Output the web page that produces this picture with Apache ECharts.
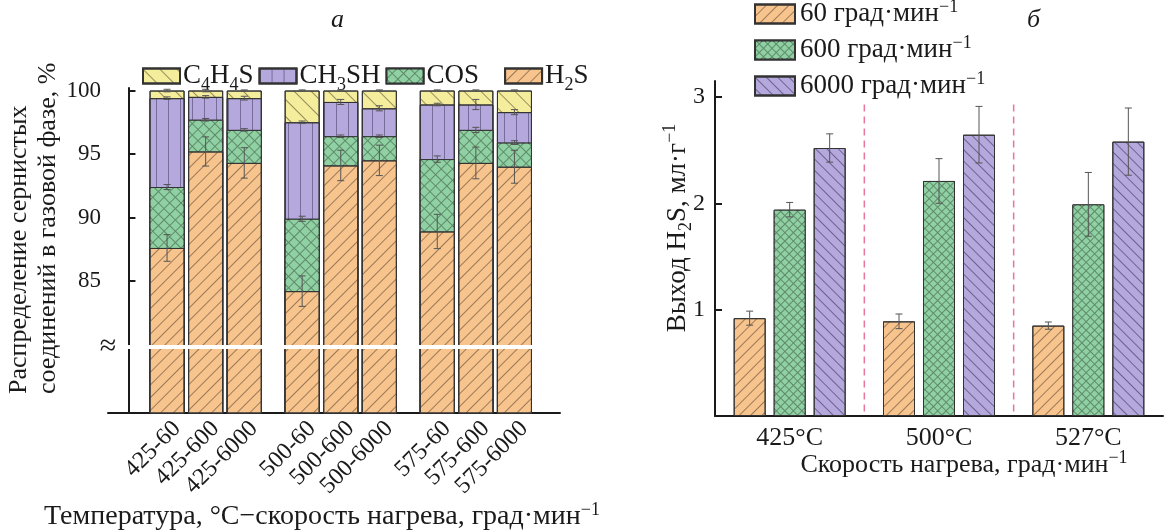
<!DOCTYPE html>
<html>
<head>
<meta charset="utf-8">
<script src="https://cdn.jsdelivr.net/npm/echarts@6/dist/echarts.min.js"></script>
<style>
  html, body { margin: 0; padding: 0; background: #fff; }
  #main { width: 1168px; height: 531px; }
</style>
</head>
<body>
<div id="main"></div>
<script>
// --- левый график (а): распределение сернистых соединений, % ---
const samples = ['425-60', '425-600', '425-6000', '500-60', '500-600', '500-6000', '575-60', '575-600', '575-6000'];
const samplePos = [1, 2, 3, 4.5, 5.5, 6.5, 8, 9, 10];
const h2s = [87.6, 95.2, 94.3, 84.2, 94.1, 94.5, 88.9, 94.3, 94.0];
const cos = [4.8, 2.5, 2.6, 5.7, 2.3, 1.9, 5.7, 2.6, 1.9];
const ch3sh = [7.0, 1.8, 2.5, 7.6, 2.7, 2.2, 4.3, 2.0, 2.4];
const c4h4s = [0.6, 0.5, 0.6, 2.5, 0.9, 1.4, 1.1, 1.1, 1.7];
const h2sErr = [1.05, 1.15, 1.2, 1.2, 1.2, 1.2, 1.35, 1.25, 1.3];
const cosErr = [0.2, 0.1, 0.1, 0.2, 0.1, 0.1, 0.25, 0.2, 0.15];
const ch3shErr = [0.1, 0.1, 0.15, 0.1, 0.2, 0.2, 0.1, 0.4, 0.2];
const c4h4sErr = [0.1, 0.1, 0.05, 0.05, 0.05, 0.05, 0.05, 0.05, 0.05];
const leftTicks = [85, 90, 95, 100];

// --- правый график (б): выход H2S, мл/г ---
const temps = ['425°C', '500°C', '527°C'];
const rateNames = ['60', '600', '6000'];
const yield60 = [0.92, 0.89, 0.85];
const yield600 = [1.94, 2.21, 1.99];
const yield6000 = [2.52, 2.645, 2.58];
const err60 = [0.066, 0.069, 0.034];
const err600 = [0.068, 0.21, 0.30];
const err6000 = [0.133, 0.266, 0.316];

const FONT = "'Liberation Serif', 'DejaVu Serif', serif";
const TXT = '#1a1a1a';
const ORANGE = '#f8c48e', GREEN = '#8fd1a2', PURPLE = '#b4a8dd', YELLOW = '#f4ee9c';

const hatch = (rot, gap, color) => ({
  symbol: 'rect', symbolSize: 1, color: color || 'rgba(80,60,40,0.55)',
  dashArrayX: [10, 0], dashArrayY: [1, gap], rotation: rot
});
const cross = (cell) => ({
  symbol: 'rect', symbolSize: 1, color: GREEN,
  dashArrayX: [cell, 1], dashArrayY: [cell, 1], rotation: Math.PI / 4
});

// накопленные значения для стопки
const lvl1 = h2s.slice();
const lvl2 = h2s.map((v, i) => v + cos[i]);
const lvl3 = lvl2.map((v, i) => v + ch3sh[i]);
const lvl4 = lvl3.map((v, i) => v + c4h4s[i]);

const pairs = (arr) => arr.map((v, i) => [samplePos[i], v]);

let errLeft = [];
[[lvl1, h2sErr], [lvl2, cosErr], [lvl3, ch3shErr], [lvl4, c4h4sErr]].forEach(([lv, er]) => {
  lv.forEach((v, i) => errLeft.push([samplePos[i], v - er[i], v + er[i]]));
});

let errRight = [];
[[yield60, err60], [yield600, err600], [yield6000, err6000]].forEach(([vals, er], k) => {
  vals.forEach((v, i) => errRight.push([i, v - er[i], v + er[i], k]));
});

function drawErr(x, top, bot) {
  const w = 3.5, st = { stroke: '#555', lineWidth: 1 };
  return {
    type: 'group', children: [
      { type: 'line', shape: { x1: x, y1: top, x2: x, y2: bot }, style: st },
      { type: 'line', shape: { x1: x - w, y1: top, x2: x + w, y2: top }, style: st },
      { type: 'line', shape: { x1: x - w, y1: bot, x2: x + w, y2: bot }, style: st }
    ]
  };
}

const subFmt = (name) => name.replace(/(\d)/g, '{sub|$1}') + (name === 'COS' ? '{gap|}' : '');
const richLeft = {
  sub: { fontSize: 18, fontFamily: FONT, color: TXT, verticalAlign: 'bottom', lineHeight: 18 },
  gap: { width: 20 }
};
const richSup = {
  sup: { fontSize: 18, fontFamily: FONT, color: TXT, verticalAlign: 'top', lineHeight: 18 },
  sub: { fontSize: 18, fontFamily: FONT, color: TXT, verticalAlign: 'bottom', lineHeight: 18 }
};

const myChart = echarts.init(document.getElementById('main'), null, { renderer: 'canvas' });

const barBorder = { borderColor: '#333', borderWidth: 1 };

myChart.setOption({
  animation: false,
  title: [
    { text: 'а', left: 326, top: 2, textStyle: { fontFamily: FONT, fontStyle: 'italic', fontWeight: 'normal', fontSize: 26, color: TXT } },
    { text: 'б', left: 1022, top: 2, textStyle: { fontFamily: FONT, fontStyle: 'italic', fontWeight: 'normal', fontSize: 26, color: TXT } }
  ],
  legend: [
    {
      data: ['C4H4S', 'CH3SH', 'COS', 'H2S'],
      left: 137, top: 53, icon: 'rect', itemWidth: 37, itemHeight: 15, itemGap: 5,
      formatter: subFmt,
      textStyle: { fontFamily: FONT, fontSize: 27, lineHeight: 36, color: TXT, rich: richLeft, padding: [0, 0, 0, -2] }
    },
    {
      data: rateNames, orient: 'vertical',
      left: 749, top: -7, icon: 'rect', itemWidth: 40, itemHeight: 19, itemGap: 4,
      formatter: (n) => n + ' град·мин{sup|−1}',
      textStyle: { fontFamily: FONT, fontSize: 27, lineHeight: 32, color: TXT, rich: richSup }
    }
  ],
  grid: [
    { left: 108, top: 88, width: 452, height: 325 },
    { left: 715, top: 81, width: 448, height: 335 }
  ],
  xAxis: [
    {
      gridIndex: 0, type: 'value', min: -0.53, max: 11.18,
      axisLine: { lineStyle: { color: TXT, width: 2 } },
      axisTick: { show: false }, splitLine: { show: false },
      axisLabel: {
        customValues: samplePos, rotate: 45, margin: 22, padding: [0, -14, 0, 0],
        fontFamily: FONT, fontSize: 24, color: TXT,
        formatter: (v) => samples[samplePos.indexOf(v)]
      }
    },
    {
      gridIndex: 1, type: 'category', data: temps,
      axisLine: { lineStyle: { color: TXT, width: 2 } },
      axisTick: { show: false }, splitLine: { show: false },
      axisLabel: { fontFamily: FONT, fontSize: 26, color: TXT, margin: 9 }
    }
  ],
  yAxis: [
    {
      gridIndex: 0, type: 'value', min: 74.6, max: 100.2,
      axisLine: { show: true, lineStyle: { color: TXT, width: 2 } },
      axisTick: { show: true, inside: true, length: 7, customValues: leftTicks, lineStyle: { color: TXT, width: 2 } },
      axisLabel: { customValues: leftTicks, fontFamily: FONT, fontSize: 23, color: TXT, margin: 7 },
      splitLine: { show: false }
    },
    {
      gridIndex: 1, type: 'value', min: 0, max: 3.15, interval: 1,
      axisLine: { show: true, lineStyle: { color: TXT, width: 2 } },
      axisTick: { show: true, inside: true, length: 7, lineStyle: { color: TXT, width: 2 } },
      axisLabel: { fontFamily: FONT, fontSize: 24, color: TXT, margin: 10, formatter: (v) => v === 0 ? '' : v },
      splitLine: { show: false }
    }
  ],
  series: [
    {
      name: 'C4H4S', type: 'bar', xAxisIndex: 0, yAxisIndex: 0, barWidth: 35, barGap: '-100%',
      itemStyle: Object.assign({ color: YELLOW, decal: hatch(Math.PI / 4, 11) }, barBorder),
      data: pairs(lvl4)
    },
    {
      name: 'CH3SH', type: 'bar', xAxisIndex: 0, yAxisIndex: 0, barWidth: 35, barGap: '-100%',
      itemStyle: Object.assign({
        color: PURPLE,
        decal: { symbol: 'rect', symbolSize: 1, color: 'rgba(70,60,100,0.55)', dashArrayX: [1, 11], dashArrayY: [10, 0] }
      }, barBorder),
      data: pairs(lvl3)
    },
    {
      name: 'COS', type: 'bar', xAxisIndex: 0, yAxisIndex: 0, barWidth: 35, barGap: '-100%',
      itemStyle: Object.assign({ color: '#5f8a6b', decal: cross(7) }, barBorder),
      data: pairs(lvl2)
    },
    {
      name: 'H2S', type: 'bar', xAxisIndex: 0, yAxisIndex: 0, barWidth: 35, barGap: '-100%',
      itemStyle: Object.assign({ color: ORANGE, decal: hatch(-Math.PI / 4, 8) }, barBorder),
      data: pairs(lvl1),
      markLine: {
        silent: true, symbol: ['none', 'none'], label: { show: false },
        lineStyle: { color: '#fff', width: 4, type: 'solid' },
        data: [{ yAxis: 79.8 }]
      }
    },
    {
      type: 'custom', xAxisIndex: 0, yAxisIndex: 0, z: 5,
      renderItem: (params, api) => {
        const t = api.coord([api.value(0), api.value(2)]);
        const b = api.coord([api.value(0), api.value(1)]);
        return drawErr(t[0], t[1], b[1]);
      },
      data: errLeft
    },
    {
      name: '60', type: 'bar', xAxisIndex: 1, yAxisIndex: 1, barWidth: 32, barGap: '25%',
      itemStyle: Object.assign({ color: ORANGE, decal: hatch(-Math.PI / 4, 7) }, barBorder),
      data: yield60
    },
    {
      name: '600', type: 'bar', xAxisIndex: 1, yAxisIndex: 1, barWidth: 32, barGap: '25%',
      itemStyle: Object.assign({ color: '#5f8a6b', decal: cross(5) }, barBorder),
      data: yield600
    },
    {
      name: '6000', type: 'bar', xAxisIndex: 1, yAxisIndex: 1, barWidth: 32, barGap: '25%',
      itemStyle: Object.assign({ color: PURPLE, decal: hatch(Math.PI / 4, 7, 'rgba(60,50,90,0.6)') }, barBorder),
      data: yield6000
    },
    {
      type: 'custom', xAxisIndex: 1, yAxisIndex: 1, z: 5,
      renderItem: (params, api) => {
        const t = api.coord([api.value(0), api.value(2)]);
        const b = api.coord([api.value(0), api.value(1)]);
        const x = t[0] + (api.value(3) - 1) * 40;
        return drawErr(x, t[1], b[1]);
      },
      data: errRight
    },
    {
      // разделители между группами температур
      type: 'custom', xAxisIndex: 1, yAxisIndex: 1, silent: true,
      renderItem: (params, api) => {
        const band = api.size([1, 0])[0];
        const top = api.coord([api.value(0), api.value(1)]);
        const bot = api.coord([api.value(0), 0]);
        const x = top[0] - band / 2;
        return {
          type: 'line', shape: { x1: x, y1: top[1], x2: x, y2: bot[1] },
          style: { stroke: '#e8769f', lineWidth: 1.5, lineDash: [7, 5] }
        };
      },
      data: [[1, 2.93], [2, 2.93]]
    }
  ],
  graphic: [
    { type: 'text', x: 108, y: 347, z: 100, style: { text: '≈', font: '30px ' + FONT, fill: TXT, align: 'center', verticalAlign: 'middle' } },
    {
      type: 'text', x: 34, y: 394, rotation: Math.PI / 2,
      style: { text: 'Распределение сернистых\nсоединений в газовой фазе, %', font: '26px ' + FONT, fill: TXT, align: 'left', verticalAlign: 'middle', lineHeight: 29 }
    },
    {
      type: 'text', x: 322, y: 517,
      style: { text: 'Температура, °С−скорость нагрева, град·мин{sup|−1}', font: '28px ' + FONT, fill: TXT, align: 'center', verticalAlign: 'middle', lineHeight: 32, rich: richSup }
    },
    {
      type: 'text', x: 678, y: 228, rotation: Math.PI / 2,
      style: { text: 'Выход H{sub|2}S, мл·г{sup|−1}', font: '27px ' + FONT, fill: TXT, align: 'center', verticalAlign: 'middle', lineHeight: 34, rich: richSup }
    },
    {
      type: 'text', x: 964, y: 465,
      style: { text: 'Скорость нагрева, град·мин{sup|−1}', font: '26px ' + FONT, fill: TXT, align: 'center', verticalAlign: 'middle', lineHeight: 32, rich: richSup }
    }
  ]
});

window.addEventListener('resize', () => { myChart.resize(); });
</script>
</body>
</html>
